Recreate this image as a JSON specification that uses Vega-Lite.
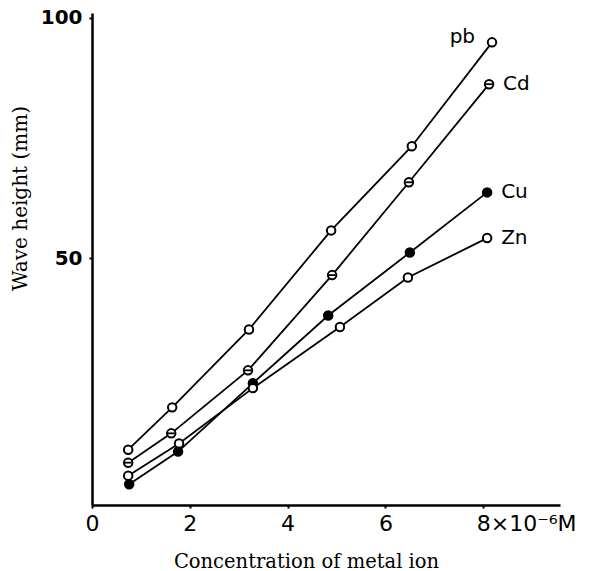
{
  "$schema": "https://vega.github.io/schema/vega-lite/v6.json",
  "width": 468,
  "height": 492,
  "autosize": {"type": "none"},
  "padding": {"left": 92, "top": 13, "right": 30, "bottom": 66},
  "background": "white",
  "config": {"view": {"stroke": null}},
  "data": {
    "values": [
      {"metal": "Pb", "x": 0.74, "y": 10.2},
      {"metal": "Pb", "x": 1.64, "y": 19.0},
      {"metal": "Pb", "x": 3.21, "y": 35.2},
      {"metal": "Pb", "x": 4.89, "y": 55.8},
      {"metal": "Pb", "x": 6.54, "y": 73.3},
      {"metal": "Pb", "x": 8.18, "y": 94.9},
      {"metal": "Cd", "x": 0.74, "y": 7.5},
      {"metal": "Cd", "x": 1.62, "y": 13.6},
      {"metal": "Cd", "x": 3.19, "y": 26.7},
      {"metal": "Cd", "x": 4.91, "y": 46.5},
      {"metal": "Cd", "x": 6.48, "y": 65.8},
      {"metal": "Cd", "x": 8.12, "y": 86.2},
      {"metal": "Cu", "x": 0.76, "y": 3.0},
      {"metal": "Cu", "x": 1.76, "y": 9.8},
      {"metal": "Cu", "x": 3.29, "y": 24.0},
      {"metal": "Cu", "x": 4.83, "y": 38.1},
      {"metal": "Cu", "x": 6.50, "y": 51.2},
      {"metal": "Cu", "x": 8.08, "y": 63.7},
      {"metal": "Zn", "x": 0.74, "y": 4.8},
      {"metal": "Zn", "x": 1.78, "y": 11.5},
      {"metal": "Zn", "x": 3.29, "y": 23.0},
      {"metal": "Zn", "x": 5.07, "y": 35.7},
      {"metal": "Zn", "x": 6.46, "y": 46.0},
      {"metal": "Zn", "x": 8.08, "y": 54.2}
    ]
  },
  "encoding": {
    "x": {
      "field": "x",
      "type": "quantitative",
      "scale": {"domain": [0, 9.57], "nice": false, "zero": false},
      "axis": {
        "values": [0, 2, 4, 6, 8],
        "grid": false,
        "domainColor": "black",
        "domainWidth": 2.5,
        "tickColor": "black",
        "tickSize": 3,
        "tickWidth": 2,
        "labelFont": "DejaVu Sans",
        "labelFontSize": 22,
        "labelColor": "black",
        "labelPadding": 5,
        "labelExpr": "datum.value == 8 ? '8×10⁻⁶M' : datum.label",
        "labelAlign": {"condition": {"test": "datum.value == 8", "value": "left"}, "value": "center"},
        "labelOffset": {"condition": {"test": "datum.value == 8", "value": -7}, "value": 0},
        "labelBound": false,
        "labelOverlap": false,
        "title": "Concentration of metal ion",
        "titleFont": "DejaVu Serif",
        "titleFontSize": 19.5,
        "titleFontWeight": "normal",
        "titleColor": "black",
        "titleX": 214,
        "titleY": 62,
        "titleBaseline": "alphabetic"
      }
    },
    "y": {
      "field": "y",
      "type": "quantitative",
      "scale": {"domain": [-1.3, 101], "nice": false, "zero": false},
      "axis": {
        "values": [50, 100],
        "grid": false,
        "domainColor": "black",
        "domainWidth": 2.5,
        "tickColor": "black",
        "tickSize": 3,
        "tickWidth": 2,
        "labelFont": "DejaVu Sans",
        "labelFontSize": 20,
        "labelFontWeight": "bold",
        "labelColor": "black",
        "labelPadding": 7,
        "title": "Wave height (mm)",
        "titleFont": "DejaVu Serif",
        "titleFontSize": 20,
        "titleFontWeight": "normal",
        "titleColor": "black",
        "titleX": -72,
        "titleY": 185,
        "titleBaseline": "middle",
        "titleAngle": -90
      }
    }
  },
  "layer": [
    {
      "mark": {"type": "line", "color": "black", "strokeWidth": 1.8},
      "encoding": {"detail": {"field": "metal"}}
    },
    {
      "mark": {"type": "point", "filled": false, "stroke": "black", "strokeWidth": 2, "size": 72, "opacity": 1},
      "encoding": {
        "fill": {
          "field": "metal",
          "type": "nominal",
          "scale": {"domain": ["Pb", "Cd", "Cu", "Zn"], "range": ["white", "white", "black", "white"]},
          "legend": null
        }
      }
    },
    {
      "transform": [{"filter": "datum.metal == 'Cd'"}],
      "mark": {"type": "point", "shape": "stroke", "stroke": "black", "strokeWidth": 1.8, "size": 45, "opacity": 1}
    },
    {
      "transform": [
        {"joinaggregate": [{"op": "max", "field": "x", "as": "xmax"}], "groupby": ["metal"]},
        {"filter": "datum.x == datum.xmax && datum.metal == 'Pb'"}
      ],
      "mark": {"type": "text", "align": "right", "baseline": "middle", "dx": -17, "dy": -5, "font": "DejaVu Sans", "fontSize": 20, "color": "black"},
      "encoding": {"text": {"value": "pb"}}
    },
    {
      "transform": [
        {"joinaggregate": [{"op": "max", "field": "x", "as": "xmax"}], "groupby": ["metal"]},
        {"filter": "datum.x == datum.xmax && datum.metal != 'Pb'"}
      ],
      "mark": {"type": "text", "align": "left", "baseline": "middle", "dx": 14, "dy": 0, "font": "DejaVu Sans", "fontSize": 20, "color": "black"},
      "encoding": {"text": {"field": "metal", "type": "nominal"}}
    }
  ]
}
